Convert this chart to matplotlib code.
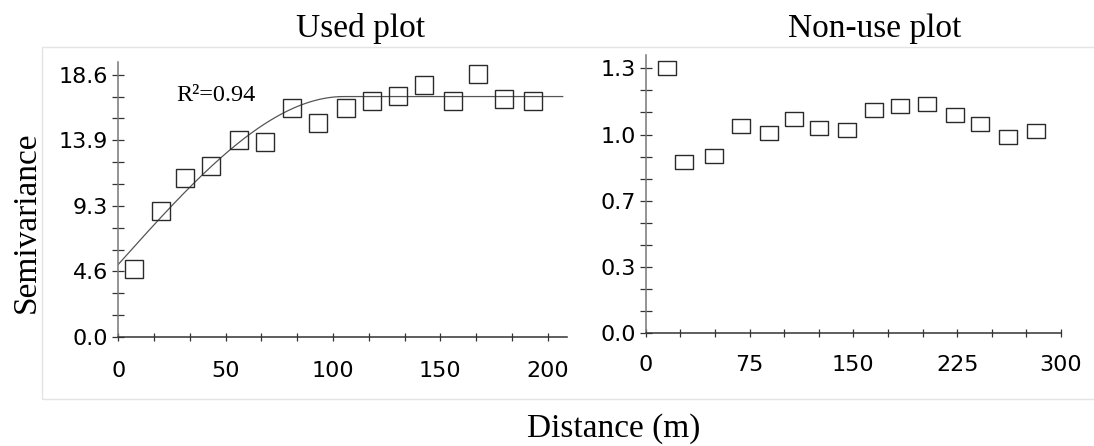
import numpy as np
import matplotlib.pyplot as plt
from matplotlib.patches import Rectangle
from matplotlib.ticker import FixedLocator, FixedFormatter, AutoMinorLocator

# Daten: Semivarianz nach Distanz
used_dist = [7.5, 19.9, 30.9, 43.2, 56.3, 68.3, 80.8, 93.0, 106.0, 118.4,
             130.5, 142.5, 155.7, 167.7, 179.8, 193.0]
used_semi = [4.85, 8.94, 11.28, 12.10, 13.95, 13.81, 16.26, 15.18, 16.26, 16.71,
             17.07, 17.85, 16.74, 18.63, 16.88, 16.74]

nonuse_dist = [15.6, 27.6, 49.1, 68.8, 88.9, 106.9, 125.3, 145.4, 165.1, 183.5,
               203.4, 223.3, 241.8, 261.7, 281.8]
nonuse_semi = [1.300, 0.841, 0.868, 1.017, 0.980, 1.053, 1.009, 0.999, 1.097, 1.114,
               1.123, 1.069, 1.025, 0.963, 0.991]

# sphaerisches Modell (Used plot)
nugget = 5.15
sill = 17.05
model_range = 105.0
r2_text = 'R²=0.94'

used_yticks = [0, 4.65, 9.3, 13.95, 18.6]
used_ylabels = ['0.0', '4.6', '9.3', '13.9', '18.6']
used_xticks = [0, 50, 100, 150, 200]
nonuse_yticks = [0, 0.325, 0.65, 0.975, 1.3]
nonuse_ylabels = ['0.0', '0.3', '0.7', '1.0', '1.3']
nonuse_xticks = [0, 75, 150, 225, 300]

W, H = 1094, 446
fig = plt.figure(figsize=(W / 100, H / 100), dpi=100)

serif = 'Liberation Serif'
sans = 'DejaVu Sans'

# heller Rahmen
fig.patches.append(Rectangle((42 / W, (H - 399) / H), 1.1, (399 - 47) / H,
                             transform=fig.transFigure, fill=False,
                             edgecolor='#e4e4e4', lw=1))

ax1 = fig.add_axes([118.3 / W, (H - 337) / H, (567 - 118.3) / W, (337 - 62) / H])
ax2 = fig.add_axes([645.7 / W, (H - 333.3) / H, (1061 - 645.7) / W, (333.3 - 55) / H])


def style(ax, xticks, yticks, ylabels, xpad):
    for s in ['top', 'right']:
        ax.spines[s].set_visible(False)
    ax.spines['left'].set_color('#777777')
    ax.spines['bottom'].set_color('#333333')
    for s in ['left', 'bottom']:
        ax.spines[s].set_linewidth(1.1)
    ax.xaxis.set_major_locator(FixedLocator(xticks))
    ax.yaxis.set_major_locator(FixedLocator(yticks))
    ax.yaxis.set_major_formatter(FixedFormatter(ylabels))
    ax.xaxis.set_minor_locator(AutoMinorLocator(3))
    ax.yaxis.set_minor_locator(AutoMinorLocator(3))
    ax.tick_params(which='both', direction='inout', width=0.9, color='#333333')
    ax.tick_params(axis='x', which='both', length=6)
    ax.tick_params(axis='y', which='both', length=8)
    ax.tick_params(axis='x', which='major', pad=xpad)
    ax.tick_params(axis='y', which='major', pad=3.3)
    for lab in ax.get_xticklabels() + ax.get_yticklabels():
        lab.set_fontfamily(sans)
        lab.set_fontsize(16)
    ax.patch.set_alpha(0)


# Used plot
h = np.linspace(0, 207, 300)
hr = np.minimum(h / model_range, 1.0)
gamma = nugget + (sill - nugget) * (1.5 * hr - 0.5 * hr ** 3)
ax1.plot(h, gamma, color='#555555', lw=0.9)
ax1.plot(used_dist, used_semi, linestyle='none', marker='s', markersize=13,
         markerfacecolor='none', markeredgecolor='#2a2a2a', markeredgewidth=1.0)
ax1.set_xlim(0, 209)
ax1.set_ylim(0, 19.5)
style(ax1, used_xticks, used_yticks, used_ylabels, 14.5)
ax1.text(27.1, 16.7, r2_text, family=serif, fontsize=17.5, va='baseline')

# Non-use plot
rect = [(-1.0, -0.83), (1.0, -0.83), (1.0, 0.83), (-1.0, 0.83), (-1.0, -0.83)]
ax2.plot(nonuse_dist, nonuse_semi, linestyle='none', marker=rect, markersize=13,
         markerfacecolor='none', markeredgecolor='#2a2a2a', markeredgewidth=1.0)
ax2.set_xlim(0, 300)
ax2.set_ylim(0, 1.365)
style(ax2, nonuse_xticks, nonuse_yticks, nonuse_ylabels, 12.5)

# Beschriftungen
fig.text(361 / W, (H - 37) / H, 'Used plot', family=serif, fontsize=24,
         ha='center', va='baseline')
fig.text(875 / W, (H - 37) / H, 'Non-use plot', family=serif, fontsize=24,
         ha='center', va='baseline')
fig.text(27 / W, (H - 222) / H, 'Semivariance', family=serif, fontsize=24,
         ha='center', va='center', rotation=90)
fig.text(614 / W, (H - 437) / H, 'Distance (m)', family=serif, fontsize=24,
         ha='center', va='baseline')

plt.savefig('out.png', dpi=100)
